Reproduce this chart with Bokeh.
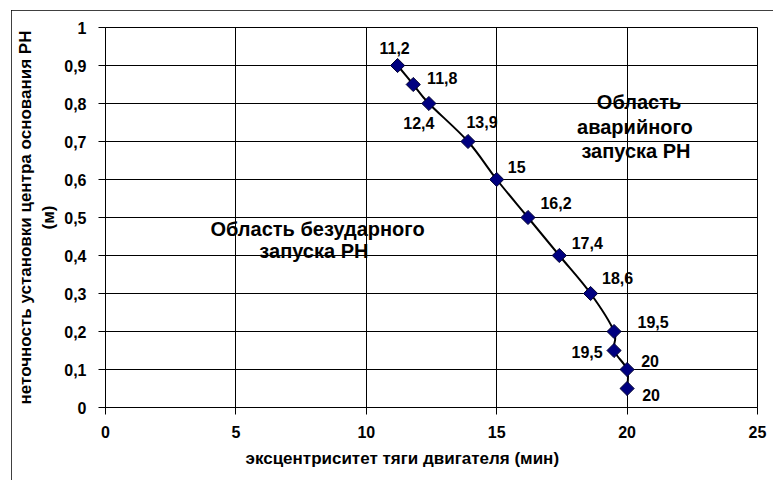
from bokeh.plotting import figure
from bokeh.models import ColumnDataSource, FixedTicker, Label, Range1d, Title
from bokeh.core.properties import value
from bokeh.embed import file_html
from bokeh.resources import INLINE

# ---- data ----
ecc_min = [11.2, 11.8, 12.4, 13.9, 15, 16.2, 17.4, 18.6, 19.5, 19.5, 20, 20]
offset_m = [0.9, 0.85, 0.8, 0.7, 0.6, 0.5, 0.4, 0.3, 0.2, 0.15, 0.1, 0.05]
x_ticks = [0, 5, 10, 15, 20, 25]
x_tick_labels = ["0", "5", "10", "15", "20", "25"]
y_ticks = [0, 0.1, 0.2, 0.3, 0.4, 0.5, 0.6, 0.7, 0.8, 0.9, 1]
y_tick_labels = ["0", "0,1", "0,2", "0,3", "0,4", "0,5", "0,6", "0,7", "0,8", "0,9", "1"]
x_title = "эксцентриситет тяги двигателя (мин)"
y_title = "неточность установки центра основания РН\n(м)"
region_left = ["Область безударного", "запуска РН"]
region_right = ["Область", "аварийного", "запуска РН"]

# label placement (pixels, layout only)
label_dx = [-3, 29, -10, 14, 20, 28, 28, 27, 39, -27, 23, 24]
label_dy = [-18, -7, 19, -20, -13, -15, -13, -16, -10, 1, -9, 6]

FONT = "Liberation Sans"

p = figure(width=762, height=470, output_backend="svg", toolbar_location=None,
           x_range=Range1d(0, 25), y_range=Range1d(0, 1),
           min_border_left=94, min_border_right=16, min_border_top=17, min_border_bottom=73,
           margin=(10, 0, 0, 11),
           styles={"outline": "1px solid black", "outline-offset": "-1px"})
p.background_fill_color = "white"
p.border_fill_color = "white"
p.outline_line_color = "black"
p.outline_line_width = 1

for ax in (p.xaxis[0], p.yaxis[0]):
    ax.axis_line_color = "black"
    ax.major_tick_line_color = "black"
    ax.major_tick_in = 0
    ax.major_tick_out = 7
    ax.minor_tick_line_color = None
    ax.major_label_text_font = FONT
    ax.major_label_text_font_style = "bold"
    ax.major_label_text_font_size = "16px"
    ax.major_label_text_color = "black"

p.xaxis[0].ticker = FixedTicker(ticks=x_ticks)
p.xaxis[0].major_label_overrides = dict(zip(x_ticks, x_tick_labels))
p.xaxis[0].major_label_standoff = 11
p.yaxis[0].ticker = FixedTicker(ticks=y_ticks)
p.yaxis[0].major_label_overrides = dict(zip(y_ticks, y_tick_labels))
p.yaxis[0].major_label_standoff = 12
p.yaxis[0].axis_label = y_title
p.yaxis[0].axis_label_text_font = FONT
p.yaxis[0].axis_label_text_font_style = "bold"
p.yaxis[0].axis_label_text_font_size = "17px"
p.yaxis[0].axis_label_text_color = "black"
p.yaxis[0].axis_label_standoff = 3

p.add_layout(Title(text=x_title, align="left", offset=140, standoff=12,
                   text_font=FONT, text_font_style="bold", text_font_size="17px",
                   text_color="black"), "below")

p.xgrid[0].grid_line_color = "black"
p.ygrid[0].grid_line_color = "black"
p.xgrid[0].grid_line_width = 1
p.ygrid[0].grid_line_width = 1

# smooth line (Catmull-Rom style Bezier segments, like spreadsheet smoothing)
n = len(ecc_min)
bx0, by0, bx1, by1, cx0, cy0, cx1, cy1 = [], [], [], [], [], [], [], []
for i in range(n - 1):
    p0 = (ecc_min[max(i - 1, 0)], offset_m[max(i - 1, 0)])
    p1 = (ecc_min[i], offset_m[i])
    p2 = (ecc_min[i + 1], offset_m[i + 1])
    p3 = (ecc_min[min(i + 2, n - 1)], offset_m[min(i + 2, n - 1)])
    bx0.append(p1[0]); by0.append(p1[1])
    bx1.append(p2[0]); by1.append(p2[1])
    cx0.append(p1[0] + (p2[0] - p0[0]) / 6); cy0.append(p1[1] + (p2[1] - p0[1]) / 6)
    cx1.append(p2[0] - (p3[0] - p1[0]) / 6); cy1.append(p2[1] - (p3[1] - p1[1]) / 6)
bsrc = ColumnDataSource(dict(x0=bx0, y0=by0, x1=bx1, y1=by1, cx0=cx0, cy0=cy0, cx1=cx1, cy1=cy1))
p.bezier(x0="x0", y0="y0", x1="x1", y1="y1", cx0="cx0", cy0="cy0", cx1="cx1", cy1="cy1",
         source=bsrc, line_color="black", line_width=2)

labels = [("%g" % v).replace(".", ",") for v in ecc_min]
src = ColumnDataSource(dict(x=ecc_min, y=offset_m, t=labels, dx=label_dx, dy=label_dy))
p.scatter("x", "y", source=src, marker="square", angle=0.7854, size=10, fill_color="#000080",
          line_color="#000030", line_width=1)
p.text("x", "y", text="t", source=src, x_offset="dx", y_offset="dy",
       text_font=value(FONT), text_font_style="bold", text_font_size="16px",
       text_align="center", text_baseline="middle", text_color="black")

def add_label(txt, x, y, size="20px"):
    p.add_layout(Label(x=x, y=y, text=txt, text_font=FONT, text_font_style="bold",
                       text_font_size=size, text_align="center", text_baseline="middle",
                       text_color="black"))

for t, xx, yy in zip(region_left, [8.13, 7.99], [0.470, 0.411]):
    add_label(t, xx, yy)
for t, xx, yy in zip(region_right, [20.46, 20.30, 20.34], [0.803, 0.738, 0.674]):
    add_label(t, xx, yy)

open("out.html", "w").write(file_html(p, INLINE))
